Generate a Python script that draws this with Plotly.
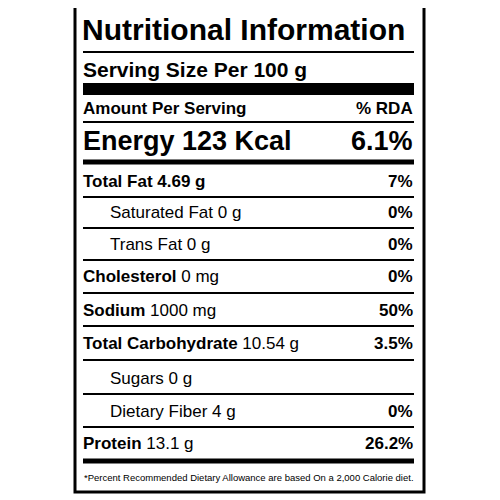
import plotly.graph_objects as go

nutrients = ["Total Fat", "Saturated Fat", "Trans Fat", "Cholesterol", "Sodium",
             "Total Carbohydrate", "Sugars", "Dietary Fiber", "Protein"]
amounts = ["4.69 g", "0 g", "0 g", "0 mg", "1000 mg", "10.54 g", "0 g", "4 g", "13.1 g"]
rda = ["7%", "0%", "0%", "0%", "50%", "3.5%", "", "0%", "26.2%"]
energy_kcal = 123
energy_rda = "6.1%"
serving = "100 g"

# styles
indented = [False, True, True, False, False, False, True, True, False]
bold_amount = [True, False, False, False, False, False, False, False, False]
row_y = [181, 212, 244, 276, 310, 343, 378, 411, 443]
line_y = [197, 228, 260, 293, 326, 360, 394, 427]

FONT = "Liberation Sans, Arial, sans-serif"
L, R = 83, 414
fig = go.Figure()
shapes = []
shapes.append(dict(type="rect", x0=75, x1=424, y0=5, y1=492, line=dict(color="black", width=3)))
shapes.append(dict(type="line", x0=L, x1=R, y0=52, y1=52, line=dict(color="black", width=2)))
shapes.append(dict(type="rect", x0=L, x1=R, y0=83, y1=95, fillcolor="black", line=dict(width=0)))
shapes.append(dict(type="line", x0=L, x1=R, y0=122, y1=122, line=dict(color="black", width=2)))
shapes.append(dict(type="line", x0=L, x1=R, y0=162, y1=162, line=dict(color="black", width=5)))
for y in line_y:
    shapes.append(dict(type="line", x0=L, x1=R, y0=y, y1=y, line=dict(color="black", width=2)))
shapes.append(dict(type="line", x0=L, x1=R, y0=461, y1=461, line=dict(color="black", width=5)))

ann = []
def t(x, y, text, size, anchor="left"):
    ann.append(dict(x=x, y=y, text=text, showarrow=False, xanchor=anchor, yanchor="middle",
                    font=dict(family=FONT, size=size, color="black")))

t(L - 3, 29, "<b>Nutritional Information</b>", 30)
t(L - 2, 69, f"<b>Serving Size Per {serving}</b>", 21)
t(L - 2, 108, "<b>Amount Per Serving</b>", 17)
t(R + 1, 108, "<b>% RDA</b>", 17, "right")
t(L - 2, 141, f"<b>Energy {energy_kcal} Kcal</b>", 27)
t(R + 1, 141, f"<b>{energy_rda}</b>", 27, "right")
for n, a, r, ind, ba, y in zip(nutrients, amounts, rda, indented, bold_amount, row_y):
    if ind:
        t(L + 25, y, f"{n} {a}", 17)
    elif ba:
        t(L - 2, y, f"<b>{n} {a}</b>", 17)
    else:
        t(L - 2, y, f"<b>{n}</b> {a}", 17)
    if r:
        t(R + 1, y, f"<b>{r}</b>", 17, "right")
ann.append(dict(x=249, y=477, text="*Percent Recommended Dietary Allowance are based On a 2,000 Calorie diet.",
                showarrow=False, xanchor="center", yanchor="middle",
                font=dict(family=FONT, size=9.5, color="black")))

fig.update_layout(width=500, height=500, margin=dict(l=0, r=0, t=0, b=0),
                  paper_bgcolor="white", plot_bgcolor="white", shapes=shapes, annotations=ann,
                  xaxis=dict(range=[8, 508], visible=False, fixedrange=True),
                  yaxis=dict(range=[508, 8], visible=False, fixedrange=True), showlegend=False)
fig.write_html("out.html", config={"displayModeBar": False})
